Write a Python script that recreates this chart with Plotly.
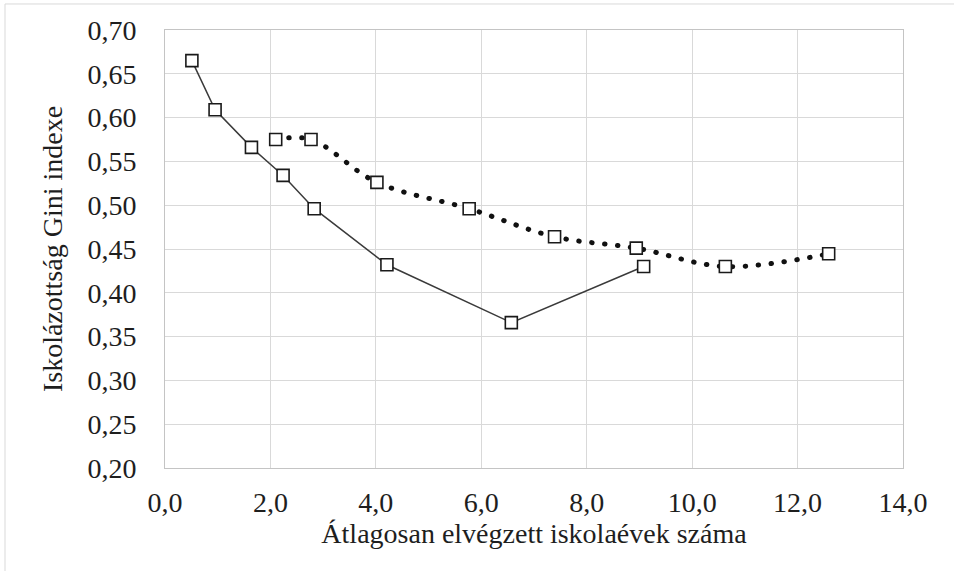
import plotly.graph_objects as go

# Series 1 (solid line)
x_solid = [0.51, 0.95, 1.64, 2.24, 2.83, 4.21, 6.57, 9.08]
y_solid = [0.665, 0.609, 0.566, 0.534, 0.496, 0.432, 0.366, 0.430]

# Series 2 (dotted, smoothed line)
x_dot = [2.10, 2.77, 4.02, 5.77, 7.39, 8.94, 10.63, 12.59]
y_dot = [0.575, 0.575, 0.526, 0.496, 0.464, 0.451, 0.430, 0.4445]

x_title = "Átlagosan elvégzett iskolaévek száma"
y_title = "Iskolázottság Gini indexe"

FONT = "Liberation Serif"
TXT = "#1e1e1e"
FS = 28

fig = go.Figure()

fig.add_trace(go.Scatter(
    x=x_solid, y=y_solid, mode="lines+markers",
    line=dict(color="#3a3a3a", width=1.5),
    marker=dict(symbol="square", size=12, color="white",
                line=dict(color="#1a1a1a", width=1.6)),
    showlegend=False, cliponaxis=False,
))

fig.add_trace(go.Scatter(
    x=x_dot, y=y_dot, mode="lines+markers",
    line=dict(color="#111111", width=5, dash="0.5px,12.5px", shape="spline", smoothing=1.0),
    marker=dict(symbol="square", size=12, color="white",
                line=dict(color="#1a1a1a", width=1.6)),
    showlegend=False, cliponaxis=False,
))

fig.update_layout(
    width=954, height=571,
    margin=dict(l=165, r=51, t=30, b=103),
    paper_bgcolor="white", plot_bgcolor="white",
    separators=", ",
    font=dict(family=FONT, size=FS, color=TXT),
    shapes=[
        dict(type="line", xref="paper", yref="paper",
             x0=-0.2168, x1=1.07, y0=1.0594, y1=1.0594,
             line=dict(color="#d9d9d9", width=1)),
        dict(type="line", xref="paper", yref="paper",
             x0=-0.2168, x1=-0.2168, y0=1.0594, y1=-0.3,
             line=dict(color="#d9d9d9", width=1)),
    ],
)

fig.update_xaxes(
    range=[0, 14], dtick=2, tick0=0, tickformat=".1f",
    showgrid=True, gridcolor="#d9d9d9", gridwidth=1,
    showline=True, linecolor="#c4c4c4", linewidth=1, mirror=True,
    zeroline=False, ticks="", ticklabelstandoff=9,
    tickfont=dict(family=FONT, size=FS, color=TXT),
    title=dict(text=x_title, font=dict(family=FONT, size=FS, color=TXT), standoff=4),
)
fig.update_yaxes(
    range=[0.20, 0.70], dtick=0.05, tick0=0.20, tickformat=".2f",
    showgrid=True, gridcolor="#d9d9d9", gridwidth=1,
    showline=True, linecolor="#c4c4c4", linewidth=1, mirror=True,
    zeroline=False, ticks="", ticklabelstandoff=22,
    tickfont=dict(family=FONT, size=FS, color=TXT),
    title=dict(text=y_title, font=dict(family=FONT, size=FS, color=TXT), standoff=16),
)

post = """
document.body.style.margin = '0px';
var tr = document.querySelectorAll('.scatterlayer .trace');
if (tr.length > 1) {
  var p = tr[1].querySelector('path.js-line');
  if (p) { p.style.strokeLinecap = 'round'; }
}
"""

fig.write_html("out.html", post_script=post, config={"displayModeBar": False})
